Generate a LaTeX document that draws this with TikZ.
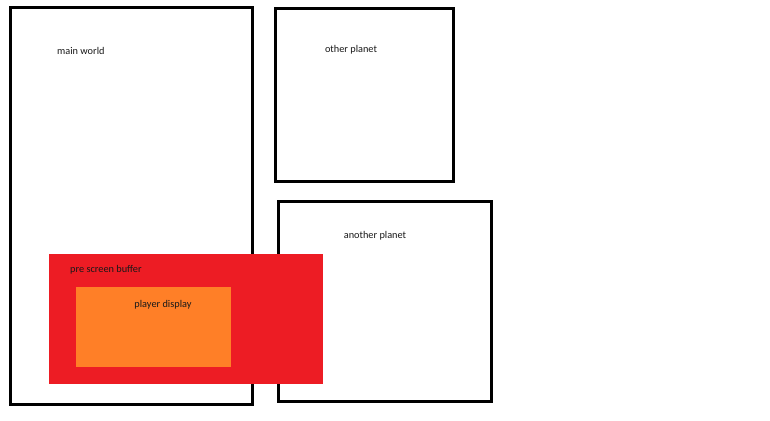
\documentclass[tikz,border=0pt]{standalone}
\usepackage{fontspec}
\setmainfont{Carlito}
\begin{document}
\begin{tikzpicture}[x=1pt,y=-1pt,
  frame/.style={draw=black,line width=3pt,fill=none,inner sep=0pt,outer sep=0pt,anchor=north west},
  area/.style={inner sep=0pt,outer sep=0pt,anchor=north west},
  lbl/.style={font=\fontsize{10.3}{12}\selectfont,text=black!90,inner sep=0pt}]
\useasboundingbox[fill=white] (0,0) rectangle (770,420);
\definecolor{bufred}{RGB}{237,28,36}
\definecolor{disporange}{RGB}{255,127,39}
\node[frame,minimum width=242pt,minimum height=396pt] (main) at (10,8) {};
\node[frame,minimum width=178pt,minimum height=172pt] (other) at (275,9) {};
\node[frame,minimum width=213pt,minimum height=200pt] (another) at (278,201) {};
\node[area,fill=bufred,minimum width=274pt,minimum height=130pt] (buffer) at (49,254) {};
\node[area,fill=disporange,minimum width=155pt,minimum height=80pt] (display) at (76,287) {};
\node[lbl,anchor=west] (tmain) at (57,51) {main world};
\node[lbl] (tother) at (351,50) {other planet};
\node[lbl] (tanother) at (375,236) {another planet};
\node[lbl,anchor=west] (tbuf) at (70,270) {pre screen buffer};
\node[lbl] (tdisp) at (163,305) {player display};
\end{tikzpicture}
\end{document}
